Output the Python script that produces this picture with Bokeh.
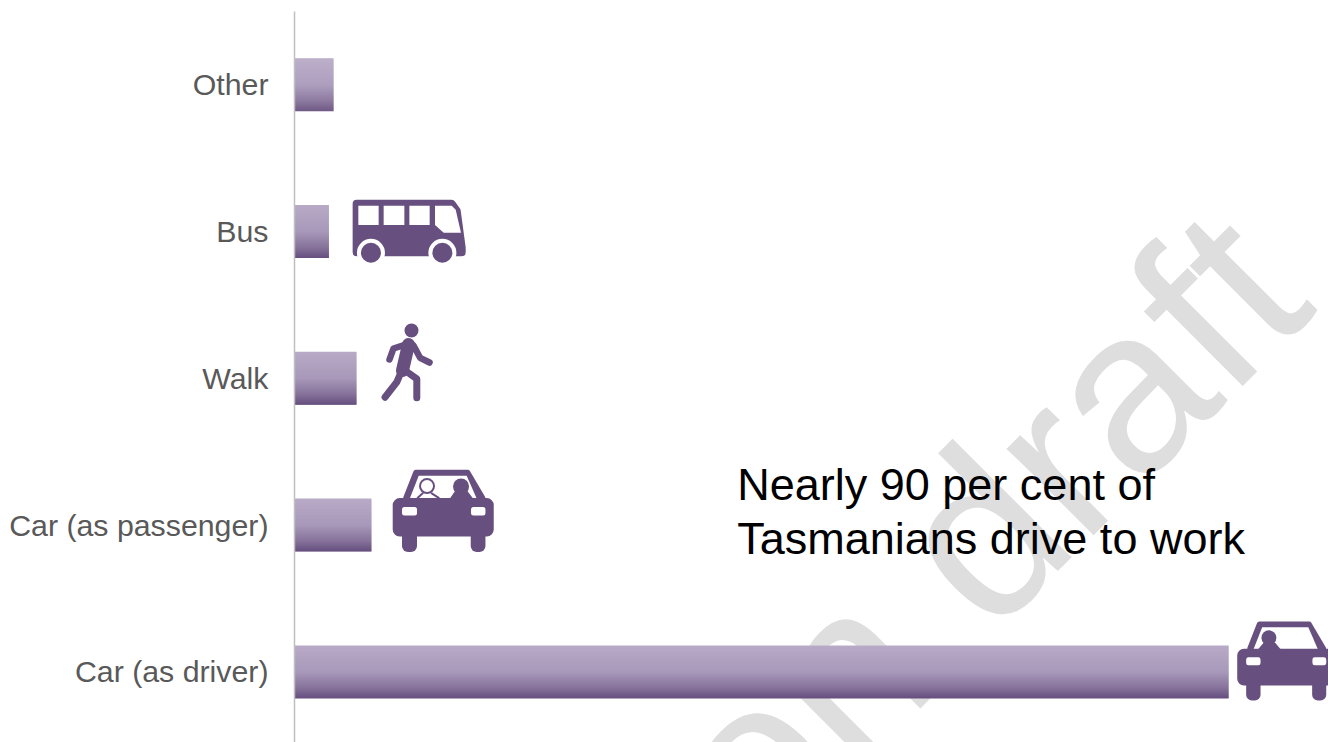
from bokeh.core.properties import value
from bokeh.embed import file_html
from bokeh.models import FixedTicker, Range1d
from bokeh.plotting import figure
from bokeh.resources import INLINE

# Share of Tasmanian commuters by mode of travel to work (per cent)
categories = ["Car (as driver)", "Car (as passenger)", "Walk", "Bus", "Other"]
shares = [81.4, 6.7, 5.4, 3.0, 3.4]
callout_lines = ["Nearly 90 per cent of", "Tasmanians drive to work"]
watermark = "on draft"

WIDTH, HEIGHT = 1328, 742
FRAME_LEFT, FRAME_TOP = 294.5, 11
PX_PER_PCT = 11.47
ROW_PX = 146.8
ROW0_PX = 671.4
BAR_PX = 53
ICON = "#67507f"
FONT = "Liberation Sans"

x_end = (WIDTH - FRAME_LEFT) / PX_PER_PCT
y_start = (ROW0_PX - HEIGHT) / ROW_PX
y_end = (ROW0_PX - FRAME_TOP) / ROW_PX

p = figure(width=WIDTH, height=HEIGHT, output_backend="svg", toolbar_location=None,
           x_range=Range1d(0, x_end), y_range=Range1d(y_start, y_end),
           min_border_left=int(FRAME_LEFT), min_border_right=0,
           min_border_top=FRAME_TOP, min_border_bottom=0, outline_line_color=None)
p.grid.visible = False
p.xaxis.visible = False

yaxis = p.yaxis[0]
yaxis.ticker = FixedTicker(ticks=list(range(len(categories))))
yaxis.major_label_overrides = {i: c for i, c in enumerate(categories)}
yaxis.major_label_text_font = FONT
yaxis.major_label_text_font_size = "30.3px"
yaxis.major_label_text_color = "#595959"
yaxis.major_label_standoff = 20
yaxis.major_tick_line_color = None
yaxis.minor_tick_line_color = None
yaxis.axis_line_color = "#bfbfbf"
yaxis.axis_line_width = 1.5


def page_x(px):
    return (px - FRAME_LEFT) / PX_PER_PCT


def page_y(px):
    return (ROW0_PX - px) / ROW_PX


# Pale diagonal watermark, behind everything else
p.text(x=[page_x(1262)], y=[page_y(252)], text=[watermark], angle=[45], angle_units="deg",
       text_font=value(FONT), text_font_size="232px", text_color="#dedede",
       text_align="right", text_baseline="alphabetic")


def mix(a, b, t):
    return tuple(round(u + (v - u) * t) for u, v in zip(a, b))


# Vertical shading for the bars, top to bottom
STOPS = [(0.0, (184, 170, 198)), (0.5, (168, 152, 186)), (0.8, (135, 115, 155)), (1.0, (103, 80, 127))]


def shade(t):
    for (t0, c0), (t1, c1) in zip(STOPS, STOPS[1:]):
        if t <= t1:
            return "#%02x%02x%02x" % mix(c0, c1, (t - t0) / (t1 - t0))
    return "#%02x%02x%02x" % STOPS[-1][1]


for row, share in enumerate(shares):
    for i in range(BAR_PX):
        top_px = -BAR_PX / 2 + i
        strip_px = 1.6 if i < BAR_PX - 1 else 1
        p.hbar(y=[row - (top_px + strip_px / 2) / ROW_PX], height=strip_px / ROW_PX, left=0, right=share,
               fill_color=shade(i / (BAR_PX - 1)), line_color=None)


class Icon:
    """Draws shapes given in pixels from an icon's corner, anchored to the end of a bar."""

    def __init__(self, share, gap, top_px, scale=1.0):
        self.x0 = share + gap / PX_PER_PCT
        self.y0 = page_y(top_px)
        self.k = scale

    def xs(self, pts):
        return [self.x0 + q[0] * self.k / PX_PER_PCT for q in pts]

    def ys(self, pts):
        return [self.y0 - q[1] * self.k / ROW_PX for q in pts]

    def poly(self, pts, color=ICON, stroke=0):
        p.patch(self.xs(pts), self.ys(pts), fill_color=color, line_color=color if stroke else None,
                line_width=(stroke * self.k) or 1, line_join="round")

    def rect(self, x0, y0, x1, y1, color=ICON, r=0):
        self.poly([(x0 + r, y0 + r), (x1 - r, y0 + r), (x1 - r, y1 - r), (x0 + r, y1 - r)],
                  color, 2 * r)

    def dot(self, x, y, radius, color=ICON):
        p.scatter(self.xs([(x, y)]), self.ys([(x, y)]), size=2 * radius * self.k,
                  fill_color=color, line_color=None)

    def stroke(self, pts, width, color=ICON):
        p.line(self.xs(pts), self.ys(pts), line_color=color, line_width=width * self.k,
               line_cap="round", line_join="round")


def car(icon):
    icon.poly([(13, 28), (23, 2.5), (75, 2.5), (90, 28)], stroke=5)
    icon.poly([(17, 29), (26, 6), (74, 6), (84, 29)], "#ffffff")
    icon.rect(0, 28.3, 101, 66.7, r=7)
    icon.rect(9.3, 60, 24.3, 82.3, r=6)
    icon.rect(78, 60, 92.7, 82.3, r=6)
    icon.rect(9.3, 37.3, 24.3, 45.7, "#ffffff", r=2.5)
    icon.rect(78.3, 37.3, 92.7, 45.7, "#ffffff", r=2.5)


# Driver car, running off the right edge
driver = Icon(shares[0], 8.6, 621, 0.96)
car(driver)
driver.dot(33, 17, 7.8)
driver.poly([(23, 29), (28, 23), (39, 23), (44, 29)], stroke=2)

# Car with passenger and driver
passenger = Icon(shares[1], 21.3, 469.3)
car(passenger)
passenger.stroke([(25, 28), (30, 23.5)], 2)
passenger.stroke([(39, 23.5), (46, 28)], 2)
passenger.dot(34.3, 16.3, 8)
passenger.dot(34.3, 16.3, 6, "#ffffff")
passenger.dot(68.3, 16.7, 8)
passenger.poly([(58.5, 28.5), (63, 22), (74, 22), (79, 28.5)], stroke=2)

# Walking figure
walker = Icon(shares[2], 28, 323)
walker.dot(27, 7, 7)
walker.stroke([(5, 36), (9, 25), (25.6, 19.7)], 6.5)
walker.stroke([(29, 22), (35.6, 34.3), (45, 39)], 6.5)
walker.stroke([(24, 21), (18, 47)], 13)
walker.stroke([(16, 50), (12.3, 58.7), (0.6, 73.7)], 7)
walker.stroke([(20.6, 47), (32.3, 55.3), (32.3, 74.3)], 7)

# Bus
bus = Icon(shares[3], 23.7, 199.3)
bus.poly([(4, 4), (99, 4), (104, 11), (109, 48), (109, 52.5), (4, 52.5)], stroke=8)
bus.rect(5.7, 6, 26, 25.3, "#ffffff")
bus.rect(31, 6, 51.7, 25.3, "#ffffff")
bus.rect(56.7, 6, 77, 25.3, "#ffffff")
bus.poly([(82.3, 6), (99, 6), (103, 10), (108.3, 33), (91, 33), (82.3, 25.3)], "#ffffff")
for wheel_x in (18.3, 89.7):
    bus.dot(wheel_x, 53, 14, "#ffffff")
    bus.dot(wheel_x, 53, 10)

# Callout next to the driver bar
for line, base_px in zip(callout_lines, (484, 538)):
    p.text(x=[page_x(737)], y=[page_y(base_px)], text=[line], text_font=value(FONT),
           text_font_size="45px", text_color="#000000", text_align="left", text_baseline="alphabetic")

with open("out.html", "w") as f:
    f.write(file_html(p, INLINE))
